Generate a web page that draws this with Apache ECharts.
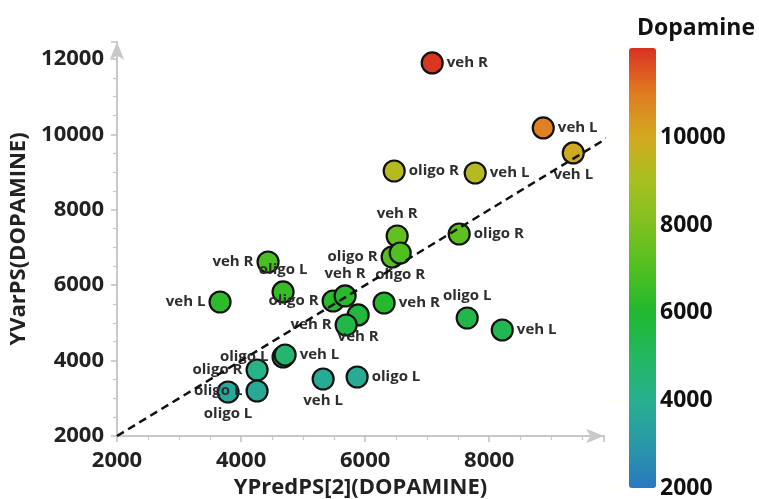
<!DOCTYPE html>
<html><head><meta charset="utf-8">
<script src="https://cdn.jsdelivr.net/npm/echarts@6/dist/echarts.min.js"></script>
<style>html,body{margin:0;padding:0;background:#fff}#c{width:759px;height:499px}</style>
</head><body><div id="c"></div>
<script>
// ---- data ----
const predX = [7081, 8871, 9355, 6468, 7774, 7516, 6516, 6435, 6565, 4435, 4677, 3661, 5484, 5677, 6306, 7645, 8210, 5887, 5694, 4677, 4710, 4258, 4258, 3790, 5323, 5871];
const varY  = [11894, 10170, 9507, 9029, 8976, 7358, 7305, 6748, 6854, 6615, 5820, 5554, 5581, 5714, 5528, 5130, 4812, 5210, 4944, 4095, 4149, 3751, 3194, 3167, 3512, 3565];
const dopamine = [12000, 10900, 9900, 9300, 9300, 7300, 7400, 7100, 7000, 6900, 6500, 6300, 6200, 6200, 6100, 5500, 5300, 5700, 5500, 4700, 4700, 4200, 3700, 3700, 3800, 3800];
const names = ['veh R','veh L','veh L','oligo R','veh L','oligo R','veh R','oligo R','oligo R','veh R','oligo L','veh L','oligo R','veh R','veh R','oligo L','veh L','veh R','veh R','oligo L','veh L','oligo R','oligo L','oligo L','veh L','oligo L'];
const fitLineX = [2000, 10000];
const fitLineY = [2000, 10000];
const xTickLabels = [2000, 4000, 6000, 8000];
const yTickLabels = [2000, 4000, 6000, 8000, 10000, 12000];
const colorTicks = [2000, 4000, 6000, 8000, 10000];

// label placement (layout only)
const labelPlace = [
  ['right',0,0],['right',0,0],['bottom',0,0],['right',0,0],['right',0,0],
  ['right',0,0],['top',0,0],['left',0,0],['bottom',33,0],['left',0,0],
  ['top',0,0],['left',0,0],['left',0,0],['top',0,0],['right',0,0],
  ['top',0,0],['right',0,0],['bottom',31,0],['left',0,0],['left',13,-7],
  ['right',0,0],['left',0,0],['left',0,0],['bottom',0,0],['bottom',0,0],['right',0,0]
];

const FONT = 'Open Sans';
const pts = predX.map((x, i) => ({
  value: [x, varY[i], dopamine[i]],
  name: names[i],
  label: { position: labelPlace[i][0], offset: [labelPlace[i][1], labelPlace[i][2]] }
}));
const linePts = fitLineX.map((x, i) => [x, fitLineY[i]]);

const axisCommon = {
  axisLine: { show: true, lineStyle: { color: '#c8c8c8', width: 2 }, symbol: ['none', 'arrow'], symbolSize: [11, 18] },
  axisTick: { show: true, inside: false, length: 6, lineStyle: { color: '#c0c0c0', width: 1.5 } },
  minorTick: { show: true, splitNumber: 4, length: 4, lineStyle: { color: '#c8c8c8', width: 1.2 } },
  splitLine: { show: false },
  nameTextStyle: { fontFamily: FONT, fontWeight: 'bold', fontSize: 22, color: '#222' }
};

const chart = echarts.init(document.getElementById('c'), null, { renderer: 'canvas' });
chart.setOption({
  animation: false,
  backgroundColor: '#fff',
  title: { text: 'Dopamine', left: 632, top: 12, textStyle: { fontFamily: FONT, fontWeight: 'bold', fontSize: 23, color: '#111' } },
  grid: [
    { left: 117, top: 42, width: 487, height: 394, outerBoundsMode: 'none', containLabel: false },
    { left: 629, top: 48, width: 27, height: 440, outerBoundsMode: 'none', containLabel: false }
  ],
  xAxis: [
    Object.assign({}, axisCommon, {
      gridIndex: 0, type: 'value', min: 2000, max: 9850, interval: 2000,
      name: 'YPredPS[2](DOPAMINE)', nameLocation: 'middle', nameGap: 41,
      axisLabel: { fontFamily: FONT, fontWeight: 'bold', fontSize: 22, color: '#222', margin: 14, showMaxLabel: false,
        formatter: v => xTickLabels.includes(v) ? String(v) : '' }
    }),
    { gridIndex: 1, type: 'value', show: false, min: 0, max: 1 }
  ],
  yAxis: [
    Object.assign({}, axisCommon, {
      gridIndex: 0, type: 'value', min: 2000, max: 12450, interval: 2000,
      name: 'YVarPS(DOPAMINE)', nameLocation: 'middle', nameGap: 68, nameRotate: 90,
      axisLabel: { fontFamily: FONT, fontWeight: 'bold', fontSize: 22, color: '#222', margin: 13, showMaxLabel: false,
        formatter: v => yTickLabels.includes(v) ? String(v) : '' }
    }),
    {
      gridIndex: 1, type: 'value', min: 2000, max: 12050, interval: 2000, position: 'right', z: 6,
      axisLine: { show: false },
      axisTick: { show: true, inside: true, length: 27, lineStyle: { color: 'rgba(255,255,220,0.35)', width: 1 } },
      splitLine: { show: false },
      axisLabel: { fontFamily: FONT, fontWeight: 'bold', fontSize: 23, color: '#111', margin: 4, showMaxLabel: false,
        formatter: v => colorTicks.includes(v) ? String(v) : '' }
    }
  ],
  visualMap: {
    type: 'continuous', seriesIndex: 0, dimension: 2, min: 2000, max: 12050,
    left: 629, top: 48, itemWidth: 27, itemHeight: 440, padding: 0,
    calculable: false, hoverLink: false, showLabel: false, text: null,
    inRange: { color: ['#2a78c0', '#2898a8', '#28b090', '#22b860', '#20b830', '#50c020', '#80c020', '#a8c020', '#d4a820', '#e07a20', '#d93222'] }
  },
  series: [
    {
      type: 'scatter', xAxisIndex: 0, yAxisIndex: 0, z: 2,
      symbol: 'circle', symbolSize: 21,
      itemStyle: { borderColor: '#111', borderWidth: 2.2, opacity: 1 },
      label: { show: true, formatter: p => p.name, distance: 3, fontFamily: FONT, fontWeight: 'bold', fontSize: 15, color: '#2e2e2e' },
      labelLayout: { hideOverlap: false },
      data: pts
    },
    {
      type: 'line', xAxisIndex: 0, yAxisIndex: 0, z: 3, clip: false,
      symbol: 'none', silent: true,
      lineStyle: { color: '#111', width: 2.5, type: [8, 5] },
      data: linePts
    }
  ]
});
</script></body></html>
